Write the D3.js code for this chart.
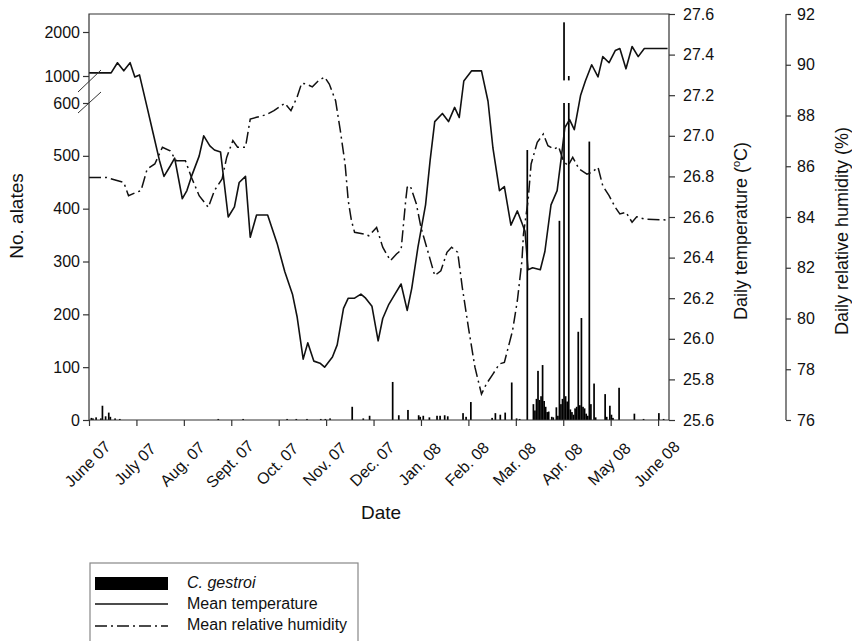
<!DOCTYPE html>
<html>
<head>
<meta charset="utf-8">
<script src="https://cdn.jsdelivr.net/npm/d3@7"></script>
<style>
body { margin: 0; background: #fff; }
text { font-family: "Liberation Sans", Arial, sans-serif; fill: #111; }
</style>
</head>
<body>
<script>
// month tick labels (June 07 .. June 08)
var monthLabels = ["June 07", "July 07", "Aug. 07", "Sept. 07", "Oct. 07", "Nov. 07", "Dec. 07",
  "Jan. 08", "Feb. 08", "Mar. 08", "Apr. 08", "May 08", "June 08"];

// mean temperature
var tempDates = ["2007-06-01","2007-06-15","2007-06-19","2007-06-23","2007-06-27","2007-06-30","2007-07-03","2007-07-08","2007-07-12","2007-07-16",
  "2007-07-19","2007-07-23","2007-07-26","2007-07-31","2007-08-03","2007-08-06","2007-08-11","2007-08-14","2007-08-18","2007-08-21",
  "2007-08-25","2007-08-30","2007-09-03","2007-09-06","2007-09-10","2007-09-13","2007-09-17","2007-09-21","2007-09-24","2007-09-30",
  "2007-10-05","2007-10-10","2007-10-13","2007-10-17","2007-10-20","2007-10-24","2007-10-28","2007-10-31","2007-11-05","2007-11-08",
  "2007-11-12","2007-11-15","2007-11-19","2007-11-23","2007-11-26","2007-11-30","2007-12-04","2007-12-07","2007-12-11","2007-12-15",
  "2007-12-19","2007-12-23","2007-12-26","2007-12-30","2008-01-04","2008-01-07","2008-01-10","2008-01-15","2008-01-19","2008-01-23",
  "2008-01-26","2008-01-29","2008-02-03","2008-02-09","2008-02-13","2008-02-16","2008-02-20","2008-02-23","2008-02-27","2008-03-02",
  "2008-03-05","2008-03-07","2008-03-09","2008-03-12","2008-03-17","2008-03-20","2008-03-24","2008-03-28","2008-03-31","2008-04-02",
  "2008-04-05","2008-04-08","2008-04-12","2008-04-15","2008-04-19","2008-04-23","2008-04-26","2008-04-30","2008-05-04","2008-05-07",
  "2008-05-11","2008-05-15","2008-05-19","2008-05-23","2008-06-07"];
var tempValues = [27.31,27.31,27.36,27.32,27.36,27.29,27.30,27.14,27.01,26.88,
  26.80,26.85,26.89,26.69,26.73,26.80,26.90,27.00,26.95,26.93,
  26.92,26.60,26.65,26.77,26.80,26.50,26.61,26.61,26.61,26.47,
  26.33,26.22,26.11,25.90,25.98,25.89,25.88,25.86,25.91,25.97,
  26.15,26.20,26.20,26.22,26.20,26.16,25.99,26.10,26.17,26.22,
  26.27,26.14,26.25,26.45,26.66,26.88,27.07,27.11,27.07,27.14,
  27.09,27.27,27.32,27.32,27.17,26.94,26.73,26.75,26.56,26.63,
  26.57,26.53,26.34,26.35,26.34,26.43,26.66,26.73,26.91,27.04,
  27.08,27.03,27.20,27.27,27.35,27.29,27.39,27.36,27.42,27.43,
  27.33,27.44,27.39,27.43,27.43];

// mean relative humidity
var humDates = ["2007-06-01","2007-06-12","2007-06-17","2007-06-23","2007-06-26","2007-06-30","2007-07-04","2007-07-08","2007-07-13","2007-07-18",
  "2007-07-23","2007-07-27","2007-08-02","2007-08-06","2007-08-11","2007-08-17","2007-08-21","2007-08-26","2007-08-29","2007-09-02",
  "2007-09-05","2007-09-10","2007-09-13","2007-09-17","2007-09-23","2007-09-28","2007-10-05","2007-10-09","2007-10-13","2007-10-16",
  "2007-10-19","2007-10-23","2007-10-27","2007-10-31","2007-11-03","2007-11-07","2007-11-10","2007-11-13","2007-11-15","2007-11-17",
  "2007-11-19","2007-11-25","2007-11-28","2007-12-03","2007-12-07","2007-12-12","2007-12-16","2007-12-19","2007-12-22","2007-12-23",
  "2007-12-25","2007-12-29","2008-01-01","2008-01-06","2008-01-10","2008-01-14","2008-01-18","2008-01-21","2008-01-25","2008-01-28",
  "2008-02-01","2008-02-05","2008-02-09","2008-02-12","2008-02-16","2008-02-20","2008-02-23","2008-02-28","2008-03-02","2008-03-05",
  "2008-03-06","2008-03-09","2008-03-11","2008-03-15","2008-03-19","2008-03-22","2008-03-26","2008-03-29","2008-04-01","2008-04-04",
  "2008-04-07","2008-04-11","2008-04-16","2008-04-19","2008-04-23","2008-04-26","2008-04-30","2008-05-04","2008-05-07","2008-05-11",
  "2008-05-15","2008-05-18","2008-05-23","2008-06-07"];
var humValues = [85.56,85.56,85.47,85.36,84.84,84.95,85.04,85.89,86.09,86.75,
  86.61,86.22,86.22,85.56,84.84,84.38,85.04,85.50,86.35,87.01,
  86.75,86.75,87.86,87.93,88.03,88.19,88.48,88.19,88.72,89.27,
  89.24,89.13,89.37,89.51,89.24,88.58,87.40,86.09,84.64,83.86,
  83.40,83.33,83.26,83.59,82.81,82.28,82.54,82.70,84.64,85.17,
  85.23,84.51,83.59,82.54,81.69,81.88,82.61,82.81,82.61,81.23,
  79.65,78.08,77.02,77.42,77.81,78.21,78.27,79.52,80.70,82.28,
  83.33,84.64,86.09,86.94,87.27,86.81,86.68,86.77,86.22,86.02,
  86.35,85.89,85.69,85.76,85.96,85.23,84.84,84.38,84.12,84.19,
  83.79,84.01,83.92,83.88];

// daily alate counts (C. gestroi)
var alateDates = ["2007-06-02","2007-06-03","2007-06-05","2007-06-08","2007-06-09","2007-06-11","2007-06-13","2007-06-14","2007-06-17","2007-06-20",
  "2007-08-23","2007-09-08","2007-10-06","2007-10-12","2007-10-19","2007-10-28","2007-10-31","2007-11-03","2007-11-17","2007-11-24",
  "2007-11-28","2007-12-13","2007-12-17","2007-12-23","2007-12-30","2007-12-31","2008-01-02","2008-01-06","2008-01-11","2008-01-13",
  "2008-01-16","2008-01-18","2008-01-28","2008-01-30","2008-02-02","2008-02-15","2008-02-17","2008-02-20","2008-02-23","2008-02-27",
  "2008-03-01","2008-03-03","2008-03-08","2008-03-12","2008-03-13","2008-03-14","2008-03-15","2008-03-16","2008-03-17","2008-03-18",
  "2008-03-19","2008-03-20","2008-03-21","2008-03-22","2008-03-24","2008-03-25","2008-03-27","2008-03-28","2008-03-29","2008-03-30",
  "2008-03-31","2008-04-01","2008-04-02","2008-04-03","2008-04-04","2008-04-05","2008-04-06","2008-04-07","2008-04-08","2008-04-09",
  "2008-04-10","2008-04-11","2008-04-12","2008-04-13","2008-04-14","2008-04-15","2008-04-16","2008-04-17","2008-04-18","2008-04-20",
  "2008-04-21","2008-04-27","2008-04-28","2008-04-30","2008-05-01","2008-05-02","2008-05-06","2008-05-16","2008-05-22","2008-06-01",
  "2008-06-04"];
var alateCounts = [4,3,5,3,27,7,14,6,3,2,
  2,2,2,2,2,2,2,3,25,3,
  8,72,9,19,9,6,8,5,8,8,
  9,7,13,6,34,4,13,10,14,71,
  3,2,511,30,18,40,93,38,45,104,
  36,25,15,16,6,5,24,8,377,30,
  40,2220,45,35,1000,20,15,10,22,25,
  167,28,193,25,22,12,8,527,30,69,
  5,49,6,27,10,4,61,12,2,13,
  2];

var leftTicksLow = [0, 100, 200, 300, 400, 500, 600];
var leftTicksHigh = [1000, 2000];
var tempTicks = [25.6, 25.8, 26.0, 26.2, 26.4, 26.6, 26.8, 27.0, 27.2, 27.4, 27.6];
var humTicks = [76, 78, 80, 82, 84, 86, 88, 90, 92];

// month index from date string (months are equally spaced on the axis)
function monthPos(s, mid) {
  var p = s.split('-').map(Number);
  var len = new Date(p[0], p[1], 0).getDate();
  return (p[0] - 2007) * 12 + (p[1] - 6) + (p[2] - (mid ? 0.5 : 1)) / len;
}

var width = 852, height = 641;
var pL = 89, pR = 669, pT = 14, pB = 420;

var svg = d3.select('body').append('svg')
  .attr('width', width)
  .attr('height', height);

var x = d3.scaleLinear().domain([0, 12.23]).range([pL, pR]);
var yLow = d3.scaleLinear().domain([0, 600]).range([pB, 103]);
var yHigh = d3.scaleLinear().domain([900, 2000]).range([80.4, 32]);
var yT = d3.scaleLinear().domain([25.6, 27.6]).range([pB, pT]);
var yH = d3.scaleLinear().domain([76, 92]).range([pB, pT]);

var axisColor = '#333';
function styleAxis(g, size) {
  g.attr('font-size', size).attr('font-family', '"Liberation Sans", Arial, sans-serif');
  g.select('.domain').remove();
  g.selectAll('.tick line').attr('stroke', axisColor).attr('stroke-width', 1.2);
  g.selectAll('.tick text').attr('fill', '#111');
}

// bars (broken axis: lower part up to 600, upper part above 900)
var bw = 1.7;
var bars = svg.append('g');
alateCounts.forEach(function(v, i) {
  var cx = x(monthPos(alateDates[i], true));
  bars.append('rect')
    .attr('x', cx - bw / 2)
    .attr('y', yLow(Math.min(v, 600)))
    .attr('width', bw)
    .attr('height', pB - yLow(Math.min(v, 600)))
    .attr('fill', '#000');
  if (v > 900) {
    bars.append('rect')
      .attr('x', cx - bw / 2)
      .attr('y', yHigh(v))
      .attr('width', bw)
      .attr('height', yHigh(900) - yHigh(v))
      .attr('fill', '#000');
  }
});

// lines
var tempLine = d3.line()
  .x(function(d, i) { return x(monthPos(tempDates[i])); })
  .y(function(d) { return yT(d); });
svg.append('path')
  .attr('d', tempLine(tempValues))
  .attr('fill', 'none')
  .attr('stroke', '#111')
  .attr('stroke-width', 1.6)
  .attr('stroke-linejoin', 'round');

var humLine = d3.line()
  .x(function(d, i) { return x(monthPos(humDates[i])); })
  .y(function(d) { return yH(d); });
var dash = '12,4,2,4';
svg.append('path')
  .attr('d', humLine(humValues))
  .attr('fill', 'none')
  .attr('stroke', '#111')
  .attr('stroke-width', 1.5)
  .attr('stroke-dasharray', dash);

// frame
svg.append('path')
  .attr('d', 'M' + pL + ',' + pT + 'H' + pR + 'V' + pB + 'H' + pL + 'Z')
  .attr('fill', 'none')
  .attr('stroke', axisColor)
  .attr('stroke-width', 1.2);

// axis break marks
svg.append('line').attr('x1', 78).attr('y1', 92).attr('x2', 101).attr('y2', 70)
  .attr('stroke', axisColor).attr('stroke-width', 1);
svg.append('line').attr('x1', 78).attr('y1', 113).attr('x2', 101).attr('y2', 92)
  .attr('stroke', axisColor).attr('stroke-width', 1);

// left axis
svg.append('g')
  .attr('transform', 'translate(' + pL + ',0)')
  .call(d3.axisLeft(yLow).tickValues(leftTicksLow).tickFormat(d3.format('d')).tickSize(6).tickPadding(3))
  .call(styleAxis, 16);
svg.append('g')
  .attr('transform', 'translate(' + pL + ',0)')
  .call(d3.axisLeft(yHigh).tickValues(leftTicksHigh).tickFormat(d3.format('d')).tickSize(6).tickPadding(3))
  .call(styleAxis, 16);

// temperature axis
svg.append('g')
  .attr('transform', 'translate(' + pR + ',0)')
  .call(d3.axisRight(yT).tickValues(tempTicks).tickFormat(d3.format('.1f')).tickSize(6).tickPadding(8))
  .call(styleAxis, 16);

// humidity axis
var hx = 786;
svg.append('line').attr('x1', hx).attr('y1', pT).attr('x2', hx).attr('y2', pB)
  .attr('stroke', axisColor).attr('stroke-width', 1.2);
svg.append('g')
  .attr('transform', 'translate(' + hx + ',0)')
  .call(d3.axisRight(yH).tickValues(humTicks).tickSize(5).tickPadding(6))
  .call(styleAxis, 16);

// x axis
var xg = svg.append('g')
  .attr('transform', 'translate(0,' + pB + ')')
  .call(d3.axisBottom(x).tickValues(d3.range(13)).tickFormat(function(i) { return monthLabels[i]; }).tickSize(6))
  .call(styleAxis, 16);
xg.selectAll('.tick text')
  .attr('x', -2)
  .attr('y', 44)
  .attr('dy', '0.35em')
  .attr('text-anchor', 'middle')
  .attr('transform', 'rotate(-45,-2,44)');

// titles
svg.append('text')
  .attr('transform', 'translate(23,216) rotate(-90)')
  .attr('text-anchor', 'middle')
  .attr('font-size', 19)
  .text('No. alates');
svg.append('text')
  .attr('x', 381).attr('y', 519)
  .attr('text-anchor', 'middle')
  .attr('font-size', 19)
  .text('Date');
var tt = svg.append('text')
  .attr('transform', 'translate(747,231) rotate(-90)')
  .attr('text-anchor', 'middle')
  .attr('font-size', 18);
tt.append('tspan').text('Daily temperature (');
tt.append('tspan').attr('dy', -7).attr('font-size', 11).text('o');
tt.append('tspan').attr('dy', 7).text('C)');
svg.append('text')
  .attr('transform', 'translate(848,231) rotate(-90)')
  .attr('text-anchor', 'middle')
  .attr('font-size', 18)
  .text('Daily relative humidity (%)');

// legend
var lg = svg.append('g');
lg.append('rect')
  .attr('x', 90).attr('y', 563).attr('width', 268).attr('height', 100)
  .attr('fill', 'none').attr('stroke', '#888').attr('stroke-width', 1.2);
lg.append('rect')
  .attr('x', 95).attr('y', 577).attr('width', 73).attr('height', 13)
  .attr('fill', '#000');
lg.append('line').attr('x1', 95).attr('x2', 168).attr('y1', 604).attr('y2', 604)
  .attr('stroke', '#111').attr('stroke-width', 1.6);
lg.append('line').attr('x1', 95).attr('x2', 168).attr('y1', 626).attr('y2', 626)
  .attr('stroke', '#111').attr('stroke-width', 1.6).attr('stroke-dasharray', dash);
lg.append('text').attr('x', 187).attr('y', 588).attr('font-size', 16)
  .attr('font-style', 'italic').text('C. gestroi');
lg.append('text').attr('x', 187).attr('y', 609).attr('font-size', 16).text('Mean temperature');
lg.append('text').attr('x', 187).attr('y', 630).attr('font-size', 16).text('Mean relative humidity');
</script>
</body>
</html>
